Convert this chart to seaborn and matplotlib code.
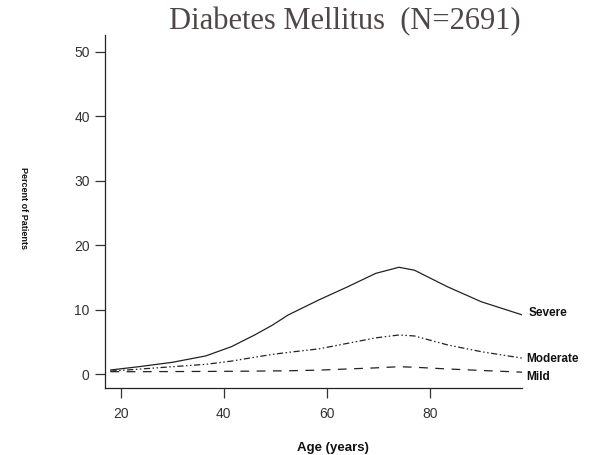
import matplotlib
matplotlib.use("Agg")
import matplotlib.pyplot as plt
import seaborn as sns
import pandas as pd

# Age grid (years) and percent of patients per severity class
ages = [18, 23.5, 30, 36.5, 41.5, 46, 49.5, 52.5, 58.5, 64, 69.5, 74, 77, 83.5, 90, 98]
severe = [0.62, 1.13, 1.81, 2.8, 4.24, 6.05, 7.6, 9.15, 11.5, 13.5, 15.6, 16.55, 16.1, 13.5, 11.2, 9.15]
moderate = [0.45, 0.75, 1.13, 1.5, 2.0, 2.6, 3.05, 3.35, 3.9, 4.75, 5.6, 6.05, 5.9, 4.5, 3.46, 2.45]
mild = [0.36, 0.36, 0.38, 0.4, 0.42, 0.45, 0.48, 0.5, 0.6, 0.78, 0.95, 1.13, 1.05, 0.78, 0.55, 0.28]

series_names = ["Severe", "Moderate", "Mild"]
x_ticks = [20, 40, 60, 80]
y_ticks = [0, 10, 20, 30, 40, 50]

df = pd.DataFrame({
    "age": ages * 3,
    "pct": severe + moderate + mild,
    "grade": [series_names[0]] * len(ages) + [series_names[1]] * len(ages) + [series_names[2]] * len(ages),
})

sns.set_theme(style="ticks")
plt.rcParams["font.family"] = ["Liberation Sans", "DejaVu Sans"]

fig = plt.figure(figsize=(5.89, 4.55), dpi=100)
ax = fig.add_axes([105 / 589, 67 / 455, 417 / 589, 353 / 455])

styles = {
    "Severe": "-",
    "Moderate": (0, (5, 2, 1.2, 2, 1.2, 2)),
    "Mild": (0, (7, 6)),
}
for name in series_names:
    sub = df[df["grade"] == name]
    sns.lineplot(data=sub, x="age", y="pct", ax=ax, color="#222222",
                 linewidth=0.9, linestyle=styles[name], legend=False)

ax.set_xlim(16.95, 97.9)
ax.set_ylim(-2.17, 52.56)
ax.set_xticks(x_ticks)
ax.set_yticks(y_ticks)
ax.tick_params(axis="both", direction="out", length=7, width=0.9, color="#333333",
               labelsize=10, labelcolor="#333333")
ax.tick_params(axis="x", pad=7)
ax.tick_params(axis="y", pad=4)
for side in ["top", "right"]:
    ax.spines[side].set_visible(False)
for side in ["left", "bottom"]:
    ax.spines[side].set_color("#222222")
    ax.spines[side].set_linewidth(0.9)

ax.set_xlabel("")
ax.set_ylabel("")

# End-of-line labels
label_pos = {"Severe": (99.2, 9.46), "Moderate": (98.8, 2.33), "Mild": (98.8, -0.47)}
for name, (lx, ly) in label_pos.items():
    ax.text(lx, ly, name, fontsize=8.5, fontweight="bold", color="#111111",
            ha="left", va="center", clip_on=False)

fig.text(345 / 589, 1 - 22 / 455, "Diabetes Mellitus  (N=2691)",
         family=["Liberation Serif", "DejaVu Serif"], fontsize=22,
         color="#4f4747", ha="center", va="center")
fig.text(23 / 589, 1 - 208 / 455, "Percent of Patients", rotation=-90,
         fontsize=6.5, fontweight="bold", color="#111111", ha="center", va="center")
fig.text(333 / 589, 1 - 448 / 455, "Age (years)", fontsize=9.5,
         fontweight="bold", color="#111111", ha="center", va="center")

fig.savefig("out.png", dpi=100)
